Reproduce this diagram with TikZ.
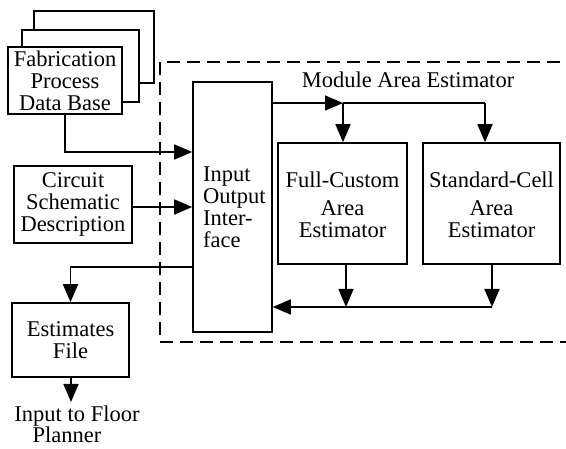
\documentclass[tikz,border=0pt]{standalone}
\usepackage{fontspec}
\setmainfont{Liberation Serif}
\usetikzlibrary{arrows.meta}
\tikzset{
  box/.style={draw, line width=1.6pt, fill=white, inner sep=0pt, align=center},
  flow/.style={line width=1.6pt},
  arr/.style={flow, -{Triangle[length=18pt, width=15pt]}},
  frame/.style={line width=1.6pt, dash pattern=on 13pt off 7pt},
  label/.style={anchor=base, inner sep=0pt},
}
\begin{document}
\begin{tikzpicture}[x=1pt, y=-1pt, font=\fontsize{22.5}{22}\selectfont]
\useasboundingbox (0,0) rectangle (566,449);
\clip (0,0) rectangle (566,449);

% estimator boundary
\draw[frame] (160,62) rectangle (620,342);
\node (mae) at (408,80) {Module Area Estimator};

% stacked data base sheets
\draw[box] (34,11) rectangle (154,83);
\draw[box] (22,30) rectangle (139,102);
\node[box, minimum width=114pt, minimum height=67pt] (fab) at (65,80.5)
  {\baselineskip=20.5pt Fabrication\\Process\\Data Base};

\node[box, minimum width=118pt, minimum height=77pt] (circ) at (73,204.5)
  {\baselineskip=20pt Circuit\\Schematic\\Description};

\node[box, minimum width=117pt, minimum height=74pt] (est) at (70.5,340)
  {\baselineskip=25pt Estimates\\File};

\node[box, minimum width=79pt, minimum height=250pt] (io) at (232.5,207) {};
\node[align=left, anchor=west, inner sep=0pt] (iotext) at (203,207)
  {\baselineskip=22pt Input\\Output\\Inter-\\face};

\node[box, minimum width=129pt, minimum height=121pt] (fc) at (342.5,203.5) {};
\node[align=center] (fct) at (342.5,205)
  {\baselineskip=24pt Full-Custom\\[6pt]Area\\Estimator};

\node[box, minimum width=137pt, minimum height=121pt] (sc) at (491.5,203.5) {};
\node[align=center] (sct) at (491.5,205)
  {\baselineskip=24pt Standard-Cell\\[6pt]Area\\Estimator};

% output destination
\node[label] (out) at (77,422) {Input to Floor};
\node[label] (out2) at (67,443) {Planner};

% routing points
\coordinate (jfc) at (343,103);
\coordinate (jsc) at (485,103);
\coordinate (rfc) at (346,307);
\coordinate (rsc) at (492,307);
\coordinate (outtip) at (71,402);

% inputs into the interface
\draw[arr] (fab.south) |- (io.west |- 0,152);
\draw[arr] (circ.east |- 0,207) -- (io.west |- 0,207);
\draw[arr] (io.west |- 0,267) -| (est.north);
\draw[arr] (est.south -| outtip) -- (outtip);

% distribution to the estimators
\draw[arr] (io.east |- jfc) -- (jfc);
\draw[flow] (jfc) -- (jsc);
\draw[arr] (jfc) -- (fc.north -| jfc);
\draw[arr] (jsc) -- (sc.north -| jsc);

% results back to the interface
\draw[arr] (fc.south -| rfc) -- (rfc);
\draw[arr] (sc.south -| rsc) -- (rsc);
\draw[arr] (rsc) -- (io.east |- rsc);
\end{tikzpicture}
\end{document}
